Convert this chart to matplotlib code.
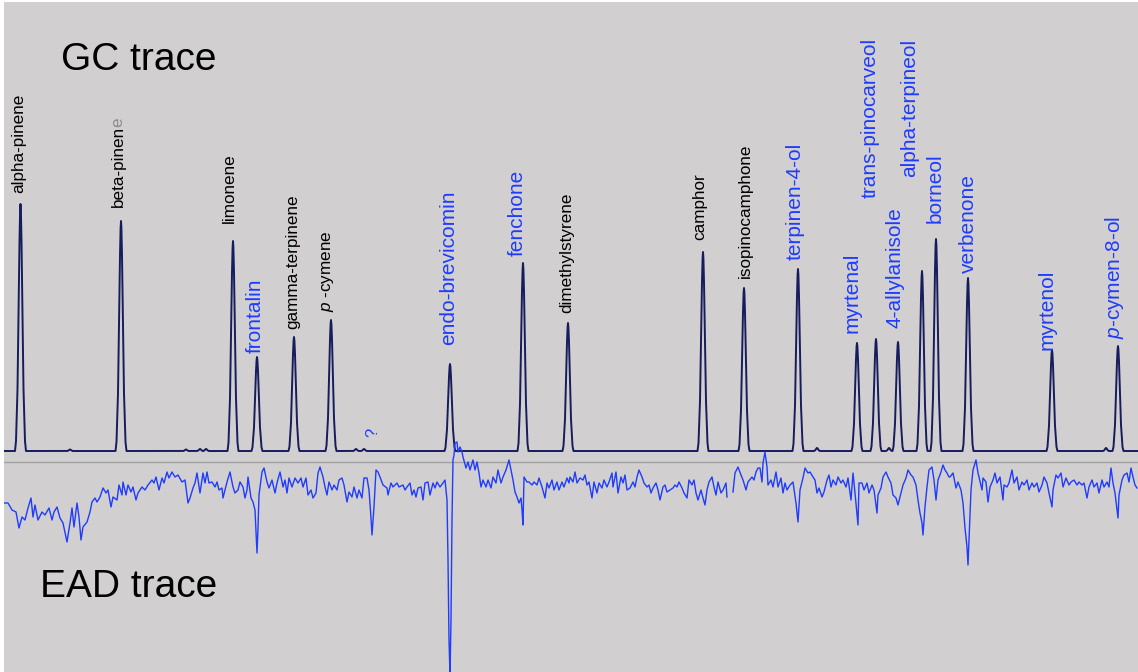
import numpy as np
import matplotlib
matplotlib.use("Agg")
import matplotlib.pyplot as plt
from matplotlib.transforms import IdentityTransform

plt.rcParams["font.family"] = ["Liberation Sans", "DejaVu Sans"]
plt.rcParams["mathtext.fontset"] = "custom"
plt.rcParams["mathtext.rm"] = "Liberation Sans"
plt.rcParams["mathtext.it"] = "Liberation Sans:italic"

# GC peaks: retention position, height above baseline, EAD-active flag
PEAK_NAMES = ["alpha-pinene", "beta-pinene", "limonene", "frontalin", "gamma-terpinene",
              r"$\mathit{p}$ -cymene", "endo-brevicomin", "fenchone", "dimethylstyrene",
              "camphor", "isopinocamphone", "terpinen-4-ol", "myrtenal", "trans-pinocarveol",
              "4-allylanisole", "alpha-terpineol", "borneol", "verbenone", "myrtenol",
              r"$\mathit{p}$-cymen-8-ol"]
PEAK_RT = [20.5, 121, 233, 257, 294, 331, 450, 523, 568, 703, 744, 798, 857, 876, 898,
           922, 936, 968, 1052, 1118]
PEAK_HEIGHT = [247, 230, 210, 94, 114, 131, 87, 188, 128, 199, 163, 182, 108, 112, 109,
               180, 212, 173, 101, 105]
PEAK_ACTIVE = [False, False, False, True, False, False, True, True, False, False, False,
               True, True, True, True, True, True, True, True, True]

# small unlabelled GC bumps
MINOR_RT = [70, 186, 200, 206, 356, 364, 817, 889, 1106]
MINOR_HEIGHT = [1.5, 1.5, 2, 2, 2, 2, 3, 3, 3]

GC_BASELINE = 221
EAD_DIVIDER = 210

# antennal response trace
EAD_X = [4, 8, 12, 16, 19, 22, 25, 28, 31, 33, 35, 38, 42, 45, 49, 52, 54, 57, 60, 63,
         67, 70, 72, 74, 77, 79, 81, 83, 87, 90, 92, 95, 97, 100, 103, 106, 108, 111, 113, 117,
         119, 122, 123, 126, 128, 131, 133, 136, 138, 142, 145, 148, 152, 154, 156, 159, 162, 164, 167, 169,
         172, 175, 178, 182, 185, 188,
         190, 193, 195, 197, 200, 203, 205, 207, 209, 212, 215, 217, 219, 222, 223, 227, 230, 233, 235, 238,
         240, 243, 245, 247, 248, 251, 253, 255, 257, 258, 259, 262, 264, 267, 269, 272, 275, 277, 280, 283,
         285, 287, 289, 292, 295, 298, 301, 303, 306, 308, 311, 313, 316, 318, 320, 323, 325, 327, 329, 332,
         334, 337, 339, 342, 344, 347, 349, 352, 354, 357, 359, 362, 364, 367, 369, 371, 372, 374, 376, 378,
         380, 383, 387, 388, 391, 393, 397, 399, 403, 405, 407, 410, 412, 414, 416, 418, 421, 423, 425, 428,
         430, 433, 435, 437, 440, 443, 445, 447, 448, 449, 450, 451, 452, 453, 454, 455, 457, 458, 460, 462,
         463, 466, 468, 470, 473, 475, 477, 479, 481, 483, 486, 488, 491, 493, 496, 498, 501, 503, 506, 509,
         511, 513, 515, 517, 519, 521, 522, 523, 524, 527, 529, 532, 534, 537, 539, 542, 545, 547, 549, 552,
         554, 557, 559, 562, 564, 567, 569,
         570, 573, 575, 577, 580, 583, 585, 587, 589, 592, 594, 597, 599, 602, 604, 607, 609, 612, 613, 616,
         618, 621, 623, 625, 627, 630, 633, 635, 637, 639, 642, 644, 647, 649, 651, 653, 656, 658, 660, 663,
         665, 667, 670, 673, 675, 677, 679, 682, 684, 687, 689, 692, 694, 696, 698, 701, 703, 705, 707, 709,
         712, 714, 716, 718, 721, 723, 726, 727, 730, 733, 735, 738, 741, 743, 746, 748, 752, 754, 756, 758,
         760, 762, 763, 765, 767, 768, 771, 773, 776, 778, 781, 783, 785, 787, 790, 793, 796, 798, 800, 803,
         805, 808, 810, 813, 815, 817, 819, 822, 824, 827, 829, 831, 833, 836, 838, 841, 843, 846, 848, 851,
         853, 855, 858, 859, 862, 864, 867, 869, 872, 874, 877, 878, 881, 883, 886, 888, 891, 893, 896, 898,
         901, 903, 906, 908, 911, 913, 916, 918, 920, 922, 923, 925, 927, 929, 932, 934, 936, 938, 941, 943,
         945, 947, 949,
         950, 953, 956, 958, 961, 963, 965, 967, 968, 969, 971, 973, 976, 978, 979, 982, 983, 986, 988, 990,
         993, 995, 997, 1000, 1003, 1004, 1007, 1009, 1012, 1014, 1017, 1019, 1022, 1024, 1027, 1029, 1032, 1034, 1037, 1039,
         1042, 1044, 1047, 1049, 1052, 1053, 1056, 1058, 1061, 1063, 1066, 1069, 1071, 1074, 1077, 1079, 1082, 1084, 1087, 1089,
         1092, 1094, 1097, 1099, 1102, 1104, 1107, 1109, 1111, 1113, 1115, 1117, 1118, 1119, 1122, 1124, 1127, 1129, 1131, 1133,
         1135, 1137]
EAD_Y = [169, 169, 162, 160, 144, 155, 152, 164, 174, 155, 167, 152, 160, 157, 164, 152, 160, 165, 154, 149,
         130, 149, 164, 145, 169, 155, 132, 145, 150, 160, 170, 174, 170, 175, 184, 179, 182, 165, 175, 172,
         187, 177, 190, 177, 187, 180, 185, 172, 179, 185, 182, 187, 192, 189, 195, 182, 194, 189, 200, 194,
         200, 195, 197, 190, 192, 169,
         174, 184, 189, 199, 179, 199, 189, 200, 189, 190, 185, 190, 182, 184, 174, 190, 200, 185, 179, 182,
         190, 185, 174, 182, 195, 174, 170, 162, 119, 144, 177, 200, 204, 190, 184, 192, 179, 189, 200, 185,
         192, 179, 194, 185, 194, 189, 194, 185, 194, 177, 182, 174, 179, 199, 205, 195, 185, 177, 190, 182,
         187, 182, 192, 194, 187, 170, 180, 175, 185, 174, 182, 174, 194, 194, 182, 154, 137, 165, 202, 200,
         195, 187, 184, 177, 189, 185, 189, 185, 187, 182, 185, 189, 177, 182, 175, 184, 185, 172, 189, 190,
         177, 189, 184, 190, 185, 189, 192, 172, 112, 32, -3, 52, 152, 212, 217, 229, 230, 220, 225, 220,
         215, 204, 210, 202, 212, 202, 210, 199, 185, 192, 185, 192, 184, 195, 189, 202, 189, 195, 202, 212,
         202, 192, 180, 175, 169, 174, 162, 147, 195, 190, 190, 187, 190, 187, 194, 185, 174, 189, 184, 192,
         182, 190, 182, 190, 185, 194, 189,
         195, 190, 200, 189, 194, 192, 197, 187, 190, 174, 190, 179, 189, 184, 192, 185, 190, 199, 185, 200,
         179, 195, 189, 197, 182, 184, 190, 185, 195, 202, 195, 189, 185, 187, 179, 184, 189, 182, 172, 185,
         187, 180, 182, 184, 187, 185, 190, 184, 179, 174, 192, 187, 192, 179, 172, 182, 174, 167, 182, 190,
         195, 185, 177, 190, 179, 182, 189, 175, np.nan, 180, 199, 205, 197, 192, 182, 190, 195, 192, 200, 204,
         204, 190, 209, 220, 205, 187, 192, 185, 200, 185, 194, 179, 189, 182, 187, 190, 169, 150, 182, 194,
         204, 199, 200, 195, 192, 179, 184, 175, 180, 192, 197, 185, 192, 187, 195, 189, 192, 185, 194, 172,
         199, 179, 147, 189, 189, 182, 189, 179, 187, 182, 159, 177, 184, 195, 200, 195, 189, 177, 174, 167,
         179, 187, 194, 202, 197, 195, 187, 172, 159, 149, 137, 165, 185, 202, 205, 192, 172, 192, 200, 207,
         202, 199, 195,
         195, 199, 184, 190, 182, 169, 144, 125, 107, 132, 182, 202, 212, 199, 195, 182, 194, 190, 170, 185,
         192, 199, 189, 195, 172, 187, 185, 189, 202, 189, 195, 182, 190, 187, 192, 182, 189, 185, 189, 180,
         187, 195, 189, 179, 165, 182, 197, 194, 199, 185, 194, 187, 190, 192, 187, 190, 187, 189, 174, 185,
         192, 185, 189, 179, 192, 185, 190, 185, 204, 189, 179, 162, 154, 177, 192, 197, 199, 190, 204, 195,
         187, 184]

TITLE_GC = "GC trace"
TITLE_EAD = "EAD trace"

NAVY = "#161c5c"
BLUE = "#1f3cff"
BACKGROUND = "#d1cfcf"

# peak profile used for every GC peak (offset, fraction of height)
PROFILE_DX = [-5.5, -4.5, -3.0, -2.0, -1.0, -0.4, 0.0, 0.4, 1.0, 2.0, 3.0, 4.5, 5.5]
PROFILE_FR = [0.0, 0.04, 0.25, 0.55, 0.85, 0.97, 1.0, 0.97, 0.85, 0.55, 0.25, 0.04, 0.0]

# label placement (horizontal nudge, gap above apex)
LABEL_DX = [-1.5, -3, -4, -2, -1, -3, -1, -6, -1, -3, 1, -3, -5, -6, -3, -12, -1, 0, -5, -4]
LABEL_GAP = [11, 14, 18, 4, 8, 8, 19, 7, 10, 12, 10, 9, 10, 141, 14, 94, 16, 5, 0, 7]


def gc_trace():
    xs = [4.0]
    ys = [GC_BASELINE]
    peaks = sorted(zip(PEAK_RT + MINOR_RT, PEAK_HEIGHT + MINOR_HEIGHT))
    for rt, h in peaks:
        scale = 1.0 if h > 10 else 0.6
        for dx, fr in zip(PROFILE_DX, PROFILE_FR):
            xs.append(rt + dx * scale)
            ys.append(GC_BASELINE + fr * h)
    xs.append(1138.0)
    ys.append(GC_BASELINE)
    return np.array(xs), np.array(ys)


fig = plt.figure(figsize=(11.38, 6.72), dpi=100, facecolor="white")
ax = fig.add_axes([4 / 1138, 0, 1134 / 1138, 670 / 672])
ax.set_facecolor(BACKGROUND)
ax.set_xlim(4, 1138)
ax.set_ylim(0, 670)
ax.set_xticks([])
ax.set_yticks([])
for sp in ax.spines.values():
    sp.set_visible(False)

ax.axhline(EAD_DIVIDER, color="#a2a2a2", linewidth=1.0, zorder=1)

gx, gy = gc_trace()
ax.plot(gx, gy, color=NAVY, linewidth=1.4, zorder=2)
ax.plot(EAD_X, EAD_Y, color=BLUE, linewidth=1.0, zorder=3)

label_texts = []
for name, rt, h, active, dx, gap in zip(PEAK_NAMES, PEAK_RT, PEAK_HEIGHT, PEAK_ACTIVE,
                                        LABEL_DX, LABEL_GAP):
    shown = "beta-pinen" if name == "beta-pinene" else name
    t = ax.text(rt + dx, GC_BASELINE + h + gap, shown, rotation=90, ha="center", va="bottom",
                color=BLUE if active else "black", fontsize=15 if active else 12.3, zorder=4)
    label_texts.append((name, t))

ax.text(373, 240, "?", rotation=90, ha="center", va="center", color=BLUE, fontsize=12)

ax.text(61, 602, TITLE_GC, fontsize=28, color="black", ha="left", va="baseline")
ax.text(40, 75, TITLE_EAD, fontsize=28, color="black", ha="left", va="baseline")

# the last letter of beta-pinene is printed in grey
fig.canvas.draw()
for name, t in label_texts:
    if name == "beta-pinene":
        bb = t.get_window_extent()
        ax.text((bb.x0 + bb.x1) / 2, bb.y1 - 1, "e", rotation=90, ha="center", va="bottom",
                color="#8c8c8c", fontsize=12.3, transform=IdentityTransform())

fig.savefig("out.png", dpi=100, facecolor=fig.get_facecolor())
